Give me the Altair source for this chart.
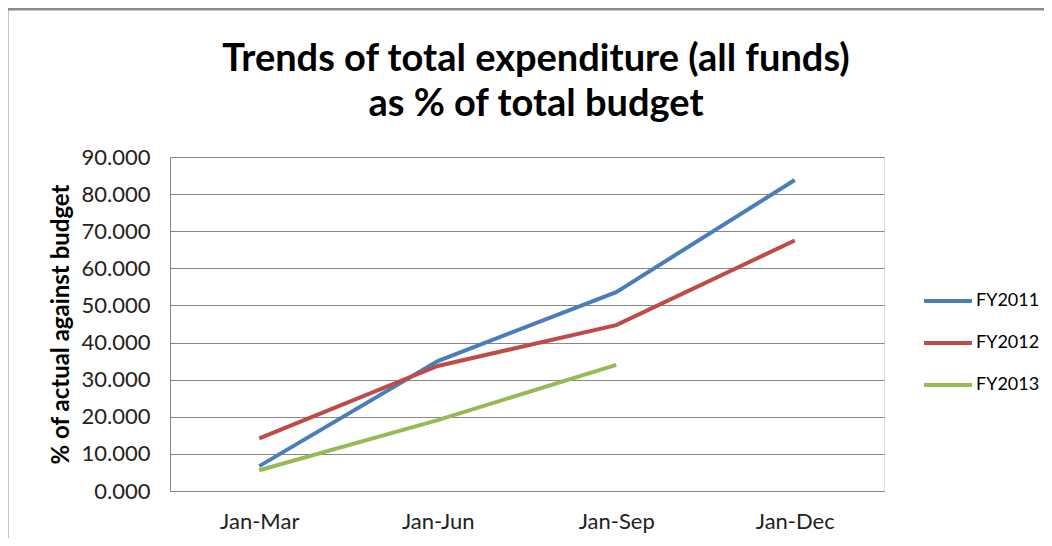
import altair as alt
import pandas as pd

periods = ["Jan-Mar", "Jan-Jun", "Jan-Sep", "Jan-Dec"]
fy2011 = [6.7, 35.0, 53.6, 83.8]
fy2012 = [14.2, 33.7, 44.7, 67.5]
fy2013 = [5.6, 19.1, 34.0]

series = {"FY2011": fy2011, "FY2012": fy2012, "FY2013": fy2013}
rows = []
for name, vals in series.items():
    for p, v in zip(periods, vals):
        rows.append({"period": p, "value": v, "series": name})
df = pd.DataFrame(rows)

colors = ["#4a7ebb", "#be4b48", "#98b954"]
font = "Lato"

lines = alt.Chart(df).mark_line(strokeWidth=4).encode(
    x=alt.X("period:N", sort=periods,
            scale=alt.Scale(type="point", padding=0.5),
            axis=alt.Axis(title=None, labelAngle=0, ticks=False, grid=False,
                          labelFontSize=22, labelPadding=20, labelColor="#222",
                          domainColor="#868686", labelFont=font)),
    y=alt.Y("value:Q", scale=alt.Scale(domain=[0, 90]),
            axis=alt.Axis(title="% of actual against budget", values=list(range(0, 100, 10)),
                          format=".3f", ticks=False, labelFontSize=22, labelPadding=20,
                          labelColor="#222", domainColor="#868686", gridColor="#868686",
                          titleFontSize=24, titleFont=font, labelFont=font,
                          titleFontWeight="bold", titlePadding=8, titleColor="#000")),
    color=alt.Color("series:N", scale=alt.Scale(domain=list(series.keys()), range=colors),
                    legend=alt.Legend(title=None, orient="none", legendX=752, legendY=118,
                                      symbolType="stroke", symbolStrokeWidth=4,
                                      symbolSize=2300, labelFontSize=18, labelFont=font,
                                      labelColor="#000", rowPadding=7, labelOffset=2)),
)

frame = pd.DataFrame({"k": [0]})
border_v = alt.Chart(frame).mark_rule(color="#8c8c8c", strokeWidth=3).encode(
    x=alt.value(-163), y=alt.value(-149), y2=alt.value(400))
border_h = alt.Chart(frame).mark_rule(color="#8c8c8c", strokeWidth=3).encode(
    x=alt.value(-163), x2=alt.value(900), y=alt.value(-148))

chart = alt.layer(lines, border_v, border_h).properties(
    width=714, height=334,
    title=alt.TitleParams(["Trends of total expenditure (all funds)", "as % of total budget"],
                          fontSize=38, font=font, fontWeight="bold", color="#000",
                          lineHeight=45, offset=23, anchor="middle", dx=9, dy=140),
    autosize=alt.AutoSizeParams(type="none"),
    padding={"left": 162, "top": 149, "right": 160, "bottom": 47},
).configure_view(stroke=None).configure(background="white")

chart.save("out.html", embed_options={"renderer": "svg", "actions": False})
